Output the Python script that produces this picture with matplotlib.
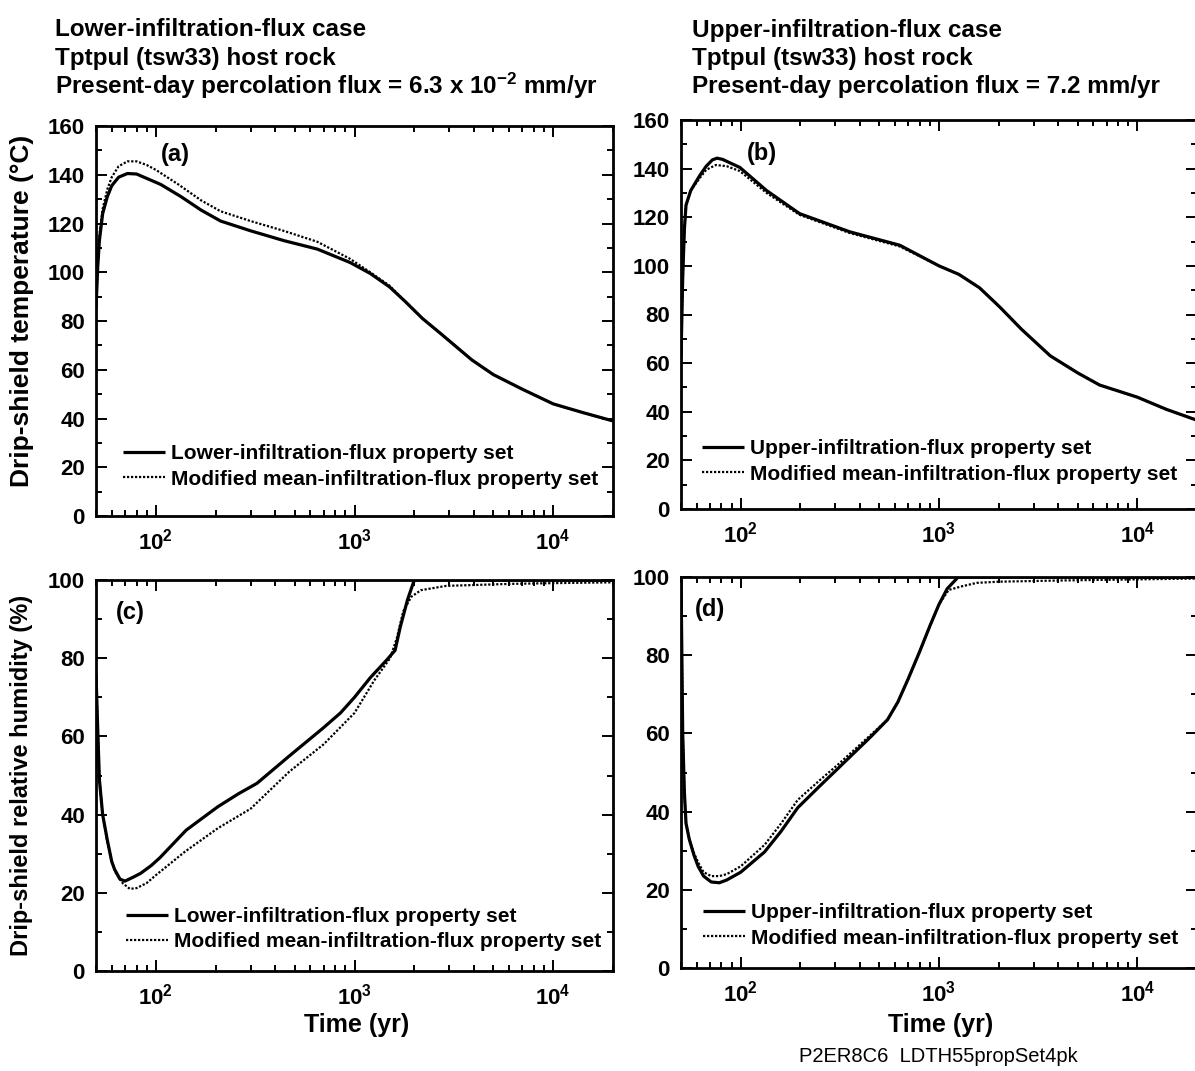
import matplotlib
matplotlib.use("Agg")
import matplotlib.pyplot as plt
from matplotlib.ticker import MultipleLocator, LogLocator, NullFormatter, FixedLocator, FixedFormatter

plt.rcParams['font.family'] = ['Liberation Sans', 'DejaVu Sans']
plt.rcParams['font.weight'] = 'bold'
plt.rcParams['mathtext.fontset'] = 'custom'
plt.rcParams['mathtext.rm'] = 'Liberation Sans:bold'
plt.rcParams['mathtext.bf'] = 'Liberation Sans:bold'
plt.rcParams['mathtext.it'] = 'Liberation Sans:bold'

# ---- data ----
# (a) lower-infiltration-flux case, drip-shield temperature
t_a_lower = [50, 51, 52, 54, 57, 60, 65, 72, 80, 90, 106, 134, 169, 212, 300, 440, 650, 950,
             1200, 1500, 1800, 2200, 2700, 3900, 5000, 7000, 10000, 14000, 20000]
temp_a_lower = [85, 102, 113, 124, 131, 135.5, 139, 140.5, 140.3, 138.5, 136, 131, 125.5, 121, 117,
                113, 109.5, 104, 99.5, 94, 88, 81, 75, 64, 58, 52, 46, 42.5, 39]
t_a_mean = [50, 51, 52, 54, 57, 60, 65, 72, 80, 90, 100, 130, 169, 212, 300, 440, 650, 950,
            1200, 1500, 1800, 2200, 2700, 3900, 5000, 7000, 10000, 14000, 20000]
temp_a_mean = [85, 103, 115, 126, 134, 139, 143.5, 145.5, 145.5, 144, 142, 136, 129.5, 125, 121,
               117, 112.5, 105.5, 100, 94.5, 88, 81, 75, 64, 58, 52, 46, 42.5, 39]

# (b) upper-infiltration-flux case, drip-shield temperature
t_b_upper = [50, 51, 52, 53, 56, 62, 67, 72, 76, 81, 99, 135, 198, 355, 634, 1000, 1260, 1600,
             2030, 2600, 3640, 5000, 6450, 10000, 14000, 20000]
temp_b_upper = [62, 95, 115, 125, 131, 137, 141, 143.6, 144.3, 143.8, 140.5, 131, 121.5, 114,
                108.5, 100, 96.5, 91, 83, 74, 63, 56, 51, 46, 41, 36.5]
t_b_mean = [50, 51, 52, 53, 56, 62, 67, 75, 85, 99, 135, 198, 355, 634, 1000, 1260, 1600,
            2030, 2600, 3640, 5000, 6450, 10000, 14000, 20000]
temp_b_mean = [62, 95, 115, 125, 131, 136, 139.5, 141.5, 141, 139, 130, 121, 113.5, 108, 100,
               96.5, 91, 83, 74, 63, 56, 51, 46, 41, 36.5]

# (c) lower-infiltration-flux case, drip-shield relative humidity
t_c_lower = [50, 51, 52, 54, 57, 60, 62, 66, 70, 77, 84, 95, 105, 142, 205, 260, 323, 470, 690,
             850, 1000, 1200, 1450, 1600, 1700, 1850, 2000, 5000, 20000]
rh_c_lower = [76, 62, 49, 40, 33.5, 28, 26, 23.5, 23, 24, 25, 27, 29, 36, 42, 45.3, 48, 55, 62,
              66, 70, 75, 79.5, 82, 88, 95, 100, 100, 100]
t_c_mean = [50, 51, 52, 54, 57, 60, 63, 68, 74, 80, 90, 100, 140, 205, 300, 470, 700, 1000,
            1260, 1510, 1630, 1760, 1930, 2160, 2900, 6000, 10000, 20000]
rh_c_mean = [76, 62, 49, 40, 33, 28, 25, 22.5, 21, 21.2, 22.5, 24.5, 30.5, 36.5, 41.5, 51, 58,
             66, 74.4, 80, 85, 92, 95.7, 97.4, 98.5, 99, 99.2, 99.4]

# (d) upper-infiltration-flux case, drip-shield relative humidity
t_d_upper = [50, 50.5, 51, 52, 53, 55, 58, 61, 65, 71, 78, 85, 100, 132, 160, 194, 250, 309,
             450, 550, 620, 700, 800, 900, 1000, 1100, 1250, 20000]
rh_d_upper = [100, 80, 60, 45, 37, 33, 29, 26, 23.5, 22, 21.8, 22.5, 24.5, 29.7, 35, 41, 46.5,
              51, 59, 63.5, 68, 74, 81, 87.5, 93, 97, 100, 100]
t_d_mean = [50, 50.5, 51, 52, 53, 55, 58, 61, 65, 71, 78, 85, 100, 132, 160, 194, 250, 309,
            450, 550, 620, 700, 800, 900, 1000, 1120, 1300, 1550, 2000, 4000, 10000, 20000]
rh_d_mean = [100, 80, 60, 45, 37, 33, 29.5, 27, 24.5, 23.5, 23.5, 24, 26, 31.5, 37, 43, 48, 52,
             59.5, 63.5, 68, 74, 81, 87.5, 93, 96.7, 97.6, 98.5, 98.8, 99.1, 99.4, 99.6]

label_lower = 'Lower-infiltration-flux property set'
label_upper = 'Upper-infiltration-flux property set'
label_mean = 'Modified mean-infiltration-flux property set'

FS = 15

fig = plt.figure(figsize=(11.95, 10.71), dpi=100)
W, H = 1195.0, 1071.0


def make_axes(x0, x1, ytop, ybot):
    return fig.add_axes([x0 / W, 1 - ybot / H, (x1 - x0) / W, (ybot - ytop) / H])


ax_a = make_axes(96, 613, 126, 516)
ax_b = make_axes(681, 1197, 120, 509)
ax_c = make_axes(96, 613, 580, 971)
ax_d = make_axes(681, 1197, 577, 968)


def style(ax, ymax, ymajor):
    ax.set_xscale('log')
    ax.set_xlim(50, 20000)
    ax.set_ylim(0, ymax)
    ax.xaxis.set_major_locator(FixedLocator([1e2, 1e3, 1e4]))
    ax.xaxis.set_major_formatter(FixedFormatter([r'$\mathbf{10^{2}}$', r'$\mathbf{10^{3}}$',
                                                 r'$\mathbf{10^{4}}$']))
    ax.xaxis.set_minor_locator(LogLocator(base=10, subs=range(2, 10), numticks=20))
    ax.xaxis.set_minor_formatter(NullFormatter())
    ax.yaxis.set_major_locator(MultipleLocator(ymajor))
    ax.yaxis.set_minor_locator(MultipleLocator(ymajor / 2))
    ax.tick_params(which='both', direction='in', top=True, right=True, width=1.4)
    ax.tick_params(which='major', length=8, labelsize=16)
    ax.tick_params(which='minor', length=4)
    ax.tick_params(axis='x', which='major', pad=9)
    ax.tick_params(axis='y', which='major', pad=8)
    for s in ax.spines.values():
        s.set_linewidth(2.0)
    for lab in ax.get_xticklabels() + ax.get_yticklabels():
        lab.set_fontweight('bold')


def draw(ax, t1, y1, lab1, t2, y2, lab2, anchor):
    ax.plot(t1, y1, color='black', lw=2.3, solid_capstyle='butt', solid_joinstyle='round',
            label=lab1)
    ax.plot(t2, y2, color='black', lw=1.6, linestyle=(0, (1, 0.8)), label=lab2)
    ax.legend(loc='lower left', bbox_to_anchor=anchor, frameon=False, borderpad=0,
              borderaxespad=0, handlelength=2.0, handletextpad=0.3, labelspacing=0.3,
              prop={'size': FS, 'weight': 'bold'})


style(ax_a, 160, 20)
style(ax_b, 160, 20)
style(ax_c, 100, 20)
style(ax_d, 100, 20)

draw(ax_a, t_a_lower, temp_a_lower, label_lower, t_a_mean, temp_a_mean, label_mean, (0.052, 0.07))
draw(ax_b, t_b_upper, temp_b_upper, label_upper, t_b_mean, temp_b_mean, label_mean, (0.041, 0.065))
draw(ax_c, t_c_lower, rh_c_lower, label_lower, t_c_mean, rh_c_mean, label_mean, (0.058, 0.05))
draw(ax_d, t_d_upper, rh_d_upper, label_upper, t_d_mean, rh_d_mean, label_mean, (0.043, 0.052))

for ax, lab, px, py in [(ax_a, '(a)', 0.153, 0.926), (ax_b, '(b)', 0.157, 0.915),
                        (ax_c, '(c)', 0.066, 0.916), (ax_d, '(d)', 0.056, 0.916)]:
    ax.text(px, py, lab, transform=ax.transAxes, fontsize=17, fontweight='bold',
            ha='center', va='center')

# axis titles
fig.text(22 / W, 1 - 311 / H, 'Drip-shield temperature (\u00b0C)', rotation=90, ha='center',
         va='center', fontsize=19, fontweight='bold')
fig.text(22 / W, 1 - 775 / H, 'Drip-shield relative humidity (%)', rotation=90, ha='center',
         va='center', fontsize=17, fontweight='bold')
fig.text(357 / W, 1 - 1025 / H, 'Time (yr)', ha='center', va='center', fontsize=18,
         fontweight='bold')
fig.text(941 / W, 1 - 1025 / H, 'Time (yr)', ha='center', va='center', fontsize=18,
         fontweight='bold')

# case headings
left_head = ['Lower-infiltration-flux case', 'Tptpul (tsw33) host rock',
             r'Present-day percolation flux = 6.3 x 10$^{\mathbf{-2}}$ mm/yr']
right_head = ['Upper-infiltration-flux case', 'Tptpul (tsw33) host rock',
              'Present-day percolation flux = 7.2 mm/yr']
for i, (lt, rt) in enumerate(zip(left_head, right_head)):
    y = 1 - (30 + 28 * i) / H
    fig.text(55 / W, y, lt, ha='left', va='center', fontsize=17.5, fontweight='bold')
    fig.text(692 / W, y, rt, ha='left', va='center', fontsize=17.5, fontweight='bold')

fig.text(938 / W, 1 - 1057 / H, 'P2ER8C6  LDTH55propSet4pk', ha='center', va='center',
         fontsize=14.5, fontweight='normal')

fig.savefig('out.png', dpi=100)
